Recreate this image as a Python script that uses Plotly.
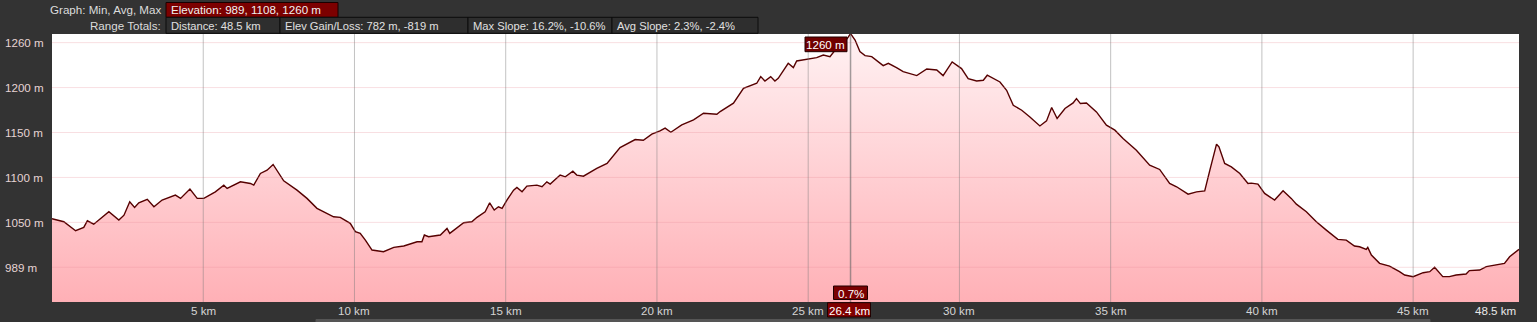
import plotly.graph_objects as go

# ---------------- data ----------------
dist_km = [0.0, 0.39, 0.78, 1.05, 1.17, 1.38, 1.88, 2.21, 2.38, 2.57, 2.73, 2.87, 3.15, 3.37, 3.64,
           4.08, 4.25, 4.56, 4.8, 5.02, 5.4, 5.68, 5.79, 6.23, 6.56, 6.67, 6.89, 7.11, 7.31, 7.5,
           7.66, 8.1, 8.43, 8.76, 9.31, 9.53, 9.75, 9.86, 10.03, 10.19, 10.36, 10.58, 10.96, 11.3,
           11.63, 12.07, 12.23, 12.31, 12.45, 12.84, 13.06, 13.15, 13.61, 13.88, 14.05, 14.32,
           14.47, 14.62, 14.76, 14.88, 15.04, 15.26, 15.37, 15.54, 15.7, 16.03, 16.2, 16.36,
           16.47, 16.8, 16.97, 17.22, 17.35, 17.57, 18.01, 18.35, 18.78, 19.01, 19.28, 19.55,
           19.83, 20.1, 20.27, 20.46, 20.82, 21.21, 21.54, 21.98, 22.09, 22.53, 22.86, 23.3,
           23.43, 23.57, 23.76, 23.9, 24.01, 24.34, 24.51, 24.62, 24.95, 25.28, 25.5, 25.72,
           25.94, 26.1, 26.3, 26.4, 26.55, 26.71, 26.88, 27.1, 27.48, 27.65, 27.92, 28.14, 28.59,
           28.92, 29.25, 29.46, 29.76, 30.07, 30.29, 30.57, 30.79, 30.92, 31.34, 31.56, 31.78,
           32.06, 32.33, 32.5, 32.66, 32.88, 33.05, 33.23, 33.49, 33.76, 33.87, 34.0, 34.2,
           34.53, 34.86, 35.14, 35.41, 35.85, 36.29, 36.62, 36.95, 37.18, 37.56, 37.84, 38.11,
           38.28, 38.5, 38.58, 38.77, 38.99, 39.27, 39.54, 39.65, 39.87, 40.09, 40.42, 40.7,
           40.97, 41.14, 41.47, 41.8, 42.13, 42.51, 42.79, 43.06, 43.23, 43.45, 43.5, 43.62,
           43.89, 44.22, 44.55, 44.72, 45.0, 45.33, 45.55, 45.71, 45.98, 46.2, 46.42, 46.75,
           46.86, 47.2, 47.42, 47.75, 48.02, 48.19, 48.5]
elev_m = [1054, 1050.7, 1040.7, 1044.4, 1051.8, 1048, 1061.8, 1052.6, 1058, 1072.9, 1066.7, 1071.8,
          1075.6, 1067.4, 1074.8, 1080.3, 1076.7, 1087, 1076.7, 1076.7, 1084, 1091.4, 1087.8,
          1095.1, 1093.3, 1091.4, 1104.4, 1108, 1114.4, 1104.4, 1096.2, 1085.9, 1076.7, 1065.6,
          1056.2, 1055.6, 1050.7, 1048.9, 1039.6, 1037.8, 1030.3, 1019.2, 1017.3, 1022.2, 1023.7,
          1028.4, 1028.4, 1035.9, 1034, 1035.9, 1043.3, 1037.8, 1049.6, 1050.7, 1055.6, 1061.8,
          1071.8, 1063.7, 1067.4, 1065.6, 1074.8, 1085.9, 1088.9, 1084, 1090.3, 1091.4, 1089.6,
          1095.1, 1092.6, 1102.6, 1100.7, 1107, 1102.6, 1101.4, 1110, 1115.6, 1133.3, 1137.8,
          1142.2, 1141.4, 1148.1, 1151.8, 1154.8, 1150.3, 1158.4, 1164, 1171.4, 1170.3, 1173.3,
          1182.6, 1199.2, 1204.8, 1212.2, 1207.3, 1212.2, 1207.3, 1210.3, 1227, 1222.2, 1229.6,
          1231.8, 1233.3, 1236.2, 1234.4, 1243.7, 1247, 1255, 1260, 1252.9, 1240, 1235.6, 1234.4,
          1224.4, 1227, 1222.2, 1217.8, 1213.3, 1220.7, 1219.6, 1213.3, 1228.5, 1221.1, 1210,
          1207.3, 1208.1, 1213.7, 1206.2, 1197, 1180.3, 1174.8, 1167.3, 1161.8, 1157.3, 1162.9,
          1177.8, 1165.6, 1176.7, 1182.9, 1187.8, 1182.2, 1182.9, 1172.9, 1158.1, 1152.6, 1143.3,
          1130.3, 1113.7, 1108.9, 1093.3, 1089.6, 1081.4, 1084, 1085.1, 1108.1, 1137, 1134,
          1115.6, 1111.8, 1104.4, 1093.3, 1093.7, 1092.6, 1082.2, 1074.8, 1085.1, 1076.7, 1070.3,
          1061.8, 1050.7, 1041.4, 1031.1, 1030.3, 1023.7, 1022.9, 1020, 1022.2, 1013.7, 1004.4,
          1001.4, 995.1, 991.4, 989.6, 994, 995.1, 1000, 989.6, 989.6, 991.4, 992.6, 996.3, 997,
          1000.7, 1002.6, 1004.4, 1011.8, 1020]

x_ticks = [5, 10, 15, 20, 25, 30, 35, 40, 45]
x_tick_labels = ["5 km", "10 km", "15 km", "20 km", "25 km", "30 km", "35 km", "40 km", "45 km"]
x_end_label = "48.5 km"
y_grid = [1000, 1050, 1100, 1150, 1200, 1250]
y_tick_labels = ["989 m", "1050 m", "1100 m", "1150 m", "1200 m", "1260 m"]

cursor_km = 26.4
cursor_elev = 1260
cursor_labels = ["1260 m", "0.7%", "26.4 km"]

header_row1_label = "Graph: Min, Avg, Max"
header_row1_boxes = ["Elevation: 989, 1108, 1260 m"]
header_row2_label = "Range Totals:"
header_row2_boxes = ["Distance: 48.5 km", "Elev Gain/Loss: 782 m, -819 m",
                     "Max Slope: 16.2%, -10.6%", "Avg Slope: 2.3%, -2.4%"]

# ---------------- layout geometry (pixels) ----------------
W, H = 1537, 322
L, R, T, B = 52, 18, 34, 20
PW, PH = W - L - R, H - T - B
FONT = "Liberation Sans"
FS = 11.6
FS_HDR = 11.2
BG = "#333333"


def fx(p):
    return (p - L) / PW


def fy(p):
    return (H - B - p) / PH


fig = go.Figure()
fig.add_trace(go.Scatter(
    x=dist_km, y=elev_m, mode="lines",
    line=dict(color="#560000", width=1.4),
    fill="tozeroy",
    fillgradient=dict(type="vertical", colorscale=[[0, "#ffb0b6"], [1, "#fff2f3"]],
                      start=961.4, stop=1260),
    hoverinfo="skip", showlegend=False,
))
fig.add_trace(go.Scatter(
    x=[cursor_km], y=[cursor_elev], mode="markers",
    marker=dict(symbol="square-open", size=8, color="#e00000", line=dict(width=1.6, color="#e00000")),
    cliponaxis=False, showlegend=False, hoverinfo="skip",
))

shapes = []
# grid lines above the fill
for v in y_grid:
    shapes.append(dict(type="line", xref="paper", yref="y", x0=0, x1=1, y0=v, y1=v,
                       line=dict(color="rgba(230,140,150,0.28)", width=1), layer="above"))
for v in x_ticks:
    shapes.append(dict(type="line", xref="x", yref="paper", x0=v, x1=v, y0=0, y1=1,
                       line=dict(color="rgba(120,120,120,0.45)", width=1), layer="above"))
# cursor line
shapes.append(dict(type="line", xref="x", yref="paper", x0=cursor_km, x1=cursor_km, y0=0, y1=1,
                   line=dict(color="rgba(100,100,100,0.6)", width=1.5), layer="above"))

annotations = []
# y tick labels (left aligned at window edge)
for v, t in zip(y_grid, y_tick_labels):
    annotations.append(dict(xref="paper", yref="y", x=fx(3), y=v, xanchor="left", yanchor="middle",
                            text=t, showarrow=False, font=dict(family=FONT, size=FS, color="#e6d4d4")))
# x tick labels
for v, t in zip(x_ticks, x_tick_labels):
    annotations.append(dict(xref="x", yref="paper", x=v, y=fy(310.5), xanchor="center", yanchor="middle",
                            text=t, showarrow=False, font=dict(family=FONT, size=FS, color="#d4d4d4")))
annotations.append(dict(xref="paper", yref="paper", x=fx(1518), y=fy(310.5), xanchor="right",
                        yanchor="middle", text=x_end_label, showarrow=False,
                        font=dict(family=FONT, size=FS, color="#e8e8e8")))


def box(x0, x1, y0, y1, fill, border):
    shapes.append(dict(type="rect", xref="paper", yref="paper", x0=fx(x0), x1=fx(x1),
                       y0=fy(y1), y1=fy(y0), fillcolor=fill, line=dict(color=border, width=1),
                       layer="above"))


def text(x, y, t, anchor="left", color="#dcdcdc", size=FS):
    annotations.append(dict(xref="paper", yref="paper", x=fx(x), y=fy(y), xanchor=anchor,
                            yanchor="middle", text=t, showarrow=False,
                            font=dict(family=FONT, size=size, color=color)))


# header
text(163, 9.5, header_row1_label, anchor="right", size=FS_HDR + 0.4)
text(163, 25.3, header_row2_label, anchor="right", size=FS_HDR + 0.4)
box(166, 338, 2.5, 17.3, "#7c0000", "#1a0000")
text(169, 9.8, header_row1_boxes[0], color="#f0f0f0", size=FS_HDR + 0.4)
row2_edges = [166, 280, 468, 612, 758]
for i, t in enumerate(header_row2_boxes):
    box(row2_edges[i], row2_edges[i + 1], 17.3, 33.3, "#2e2e2e", "#0c0c0c")
    text(row2_edges[i] + 3, 25.5, t, color="#e0e0e0", size=FS_HDR)

# cursor labels
box(805, 847, 37, 51.7, "#700000", "#200000")
text(826, 44.5, cursor_labels[0], anchor="center", color="#ffffff")
box(833.5, 867.5, 286, 299.5, "#7a0000", "#200000")
text(850.5, 293, cursor_labels[1], anchor="center", color="#ffffff")
box(827.5, 870.5, 302.7, 317, "#800000", "#200000")
text(849, 310.3, cursor_labels[2], anchor="center", color="#ffffff")

# bottom scroll bar strip
box(316, 1430, 319.5, 323, "#555555", "#555555")

fig.update_layout(
    width=W, height=H,
    margin=dict(l=L, r=R, t=T, b=B),
    paper_bgcolor=BG, plot_bgcolor="#ffffff",
    xaxis=dict(range=[0, 48.5], showgrid=False, zeroline=False, showticklabels=False,
               ticks="", fixedrange=True),
    yaxis=dict(range=[961.4, 1259.6], showgrid=False, zeroline=False, showticklabels=False,
               ticks="", fixedrange=True),
    shapes=shapes, annotations=annotations,
    showlegend=False, hovermode=False,
)

fig.write_html("out.html")
